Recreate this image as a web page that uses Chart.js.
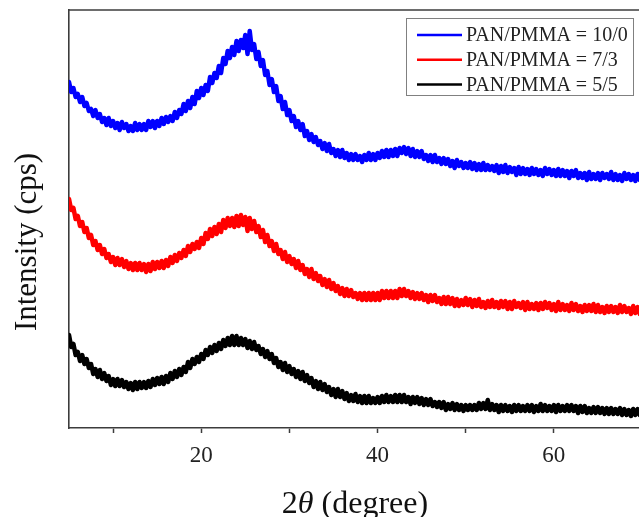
<!DOCTYPE html>
<html>
<head>
<meta charset="utf-8">
<script src="https://cdn.jsdelivr.net/npm/chart.js@4/dist/chart.umd.min.js"></script>
<style>
  html, body { margin: 0; padding: 0; background: #fff; overflow: hidden; }
  #wrap { width: 643px; height: 517px; position: relative; }
</style>
</head>
<body>
<div id="wrap"><canvas id="c"></canvas></div>
<script>
// ---- data (2theta scan, 5-70 deg, 0.25 deg step) ----
const scanStart = 5;
const scanStep = 0.25;
const seriesLabels = ['PAN/PMMA = 10/0', 'PAN/PMMA = 7/3', 'PAN/PMMA = 5/5'];
const seriesColors = ['#0000ff', '#ff0000', '#000000'];

const pan100 = [
346,336,340,331, 334,326,331,322, 325,317,319,312, 318,310,314,306, 310,303,310,302,
307,300,305,298, 306,300,304,297, 302,297,305,298, 304,298,304,298, 307,301,307,300,
307,302,310,304, 311,306,312,307, 316,310,318,314, 324,317,327,320, 331,324,337,330,
340,333,343,337, 351,345,355,350, 362,355,370,364, 377,370,381,373, 387,377,388,380,
393,374,397,378, 384,369,376,362, 368,353,357,343, 349,336,342,327, 332,319,326,313,
318,307,312,301, 307,298,304,292, 297,288,294,286, 291,283,287,279, 285,277,284,275,
279,272,278,271, 278,270,275,268, 274,268,274,268, 272,266,273,268, 275,268,274,268,
275,270,277,271, 278,271,278,272, 279,272,280,275, 281,274,280,272, 279,271,277,271,
277,269,273,267, 273,266,273,266, 270,264,270,264, 269,262,267,260, 268,262,266,260,
265,260,266,259, 265,258,264,258, 265,258,263,258, 262,257,263,255, 262,256,263,255,
261,256,260,253, 261,254,260,254, 259,253,260,254, 259,253,258,252, 260,254,259,253,
258,252,259,252, 258,252,257,250, 257,252,258,250, 255,250,255,248, 256,249,254,249,
255,248,255,250, 254,249,256,248, 254,248,253,247, 255,249,254,248, 253,247,254,248,
252];

const pan73 = [
229,218,220,209, 212,202,206,196, 200,190,193,183, 187,178,183,174, 179,170,174,166,
171,163,170,163, 169,161,167,159, 165,158,165,158, 165,158,164,156, 164,157,166,159,
166,160,167,160, 168,162,171,165, 173,167,175,170, 178,172,182,176, 184,179,186,180,
190,184,195,189, 199,192,201,194, 204,196,208,200, 210,202,210,201, 212,202,213,203,
211,197,210,199, 207,196,202,191, 198,186,193,182, 187,177,184,174, 178,169,176,166,
172,164,169,160, 167,158,163,154, 159,151,159,149, 155,147,152,143, 149,141,148,139,
145,137,142,134, 140,132,139,132, 138,131,135,129, 135,128,135,128, 135,128,135,128,
135,128,137,130, 137,130,137,130, 137,130,139,132, 139,132,137,130, 136,129,135,129,
135,128,133,126, 133,127,133,126, 130,124,131,124, 131,124,130,122, 129,122,128,123,
130,123,129,121, 128,122,129,121, 126,120,127,121, 128,121,126,120, 127,121,127,119,
126,119,127,121, 125,120,126,118, 126,119,124,119, 125,118,125,119, 126,120,125,118,
124,117,126,118, 124,118,123,117, 125,118,124,117, 122,116,123,117, 123,117,124,116,
123,116,121,115, 122,116,122,116, 121,115,123,116, 122,116,120,114, 122,115,121,114,
118];

const pan55 = [
93,81,84,73, 76,67,73,64, 69,60,64,54, 59,51,58,49, 55,47,52,43,
49,42,49,42, 48,41,46,39, 45,38,46,39, 46,40,46,40, 47,41,49,43,
50,44,51,44, 52,46,55,49, 57,51,59,53, 61,56,66,60, 69,64,71,66,
74,69,78,73, 81,75,83,77, 85,79,88,82, 90,83,92,83, 92,83,90,83,
89,80,87,79, 86,78,82,74, 79,71,77,69, 74,65,70,61, 66,58,65,56,
62,54,59,51, 57,49,56,47, 53,45,50,41, 47,39,46,38, 44,36,41,33,
39,31,39,31, 37,29,35,27, 33,27,34,26, 32,25,32,25, 32,25,30,25,
31,25,32,26, 33,26,32,26, 33,26,33,26, 33,26,31,24, 31,25,31,24,
30,23,29,23, 29,22,26,21, 26,20,26,18, 24,19,25,18, 24,18,23,17,
23,18,23,18, 23,18,25,19, 25,19,28,18, 24,18,23,16, 23,17,23,17,
22,16,23,17, 23,17,22,17, 23,17,23,16, 22,17,24,17, 23,17,22,17,
23,16,23,17, 22,17,23,17, 23,17,22,15, 22,16,22,15, 20,15,21,15,
21,15,20,14, 20,14,20,14, 19,14,20,13, 19,13,18,12, 19,13,19,13,
16];

const xTickValues = [10, 20, 30, 40, 50, 60];
const xTickLabels = ['', '20', '', '40', '', '60'];
const xTitleParts = ['2', 'θ', ' (degree)'];
const yTitle = 'Intensity (cps)';

// ---- build datasets ----
function toPoints(arr) {
  return arr.map((v, i) => ({ x: scanStart + i * scanStep, y: v }));
}
const seriesValues = [pan100, pan73, pan55];
const datasets = seriesValues.map((arr, k) => ({
  label: seriesLabels[k],
  data: toPoints(arr),
  borderColor: seriesColors[k],
  backgroundColor: seriesColors[k],
  borderWidth: 4.5,
  borderJoinStyle: 'round',
  borderCapStyle: 'round',
  pointRadius: 0,
  tension: 0,
  fill: false
}));

const SERIF = '"Liberation Serif", "Times New Roman", serif';
const AXIS = '#3c3c3c';

const decor = {
  id: 'decor',
  afterDraw(chart) {
    const ctx = chart.ctx;
    const a = chart.chartArea;
    ctx.save();
    // top frame line
    ctx.strokeStyle = AXIS;
    ctx.lineWidth = 1.6;
    ctx.beginPath();
    ctx.moveTo(a.left, a.top);
    ctx.lineTo(a.right, a.top);
    ctx.stroke();

    // legend box
    const bx = 406, by = 18, bw = 227, bh = 77;
    ctx.fillStyle = '#fff';
    ctx.fillRect(bx, by, bw, bh);
    ctx.strokeStyle = '#808080';
    ctx.lineWidth = 1;
    ctx.strokeRect(bx + 0.5, by + 0.5, bw, bh);
    ctx.font = '20px ' + SERIF;
    ctx.textBaseline = 'middle';
    ctx.textAlign = 'left';
    chart.data.datasets.forEach((ds, i) => {
      const yy = by + 17 + i * 24.7;
      ctx.strokeStyle = ds.borderColor;
      ctx.lineWidth = 2.5;
      ctx.beginPath();
      ctx.moveTo(417, yy);
      ctx.lineTo(462, yy);
      ctx.stroke();
      ctx.fillStyle = '#222';
      ctx.fillText(ds.label, 466, yy + 1);
    });

    // y title
    ctx.save();
    ctx.translate(28, 242);
    ctx.rotate(-Math.PI / 2);
    ctx.font = '31px ' + SERIF;
    ctx.fillStyle = '#111';
    ctx.textAlign = 'center';
    ctx.textBaseline = 'middle';
    ctx.fillText(yTitle, 0, 0);
    ctx.restore();

    // x title with italic theta
    const fonts = ['32px ' + SERIF, 'italic 32px ' + SERIF, '32px ' + SERIF];
    let total = 0;
    const widths = xTitleParts.map((t, i) => { ctx.font = fonts[i]; const w = ctx.measureText(t).width; total += w; return w; });
    let x0 = 355 - total / 2;
    ctx.fillStyle = '#111';
    ctx.textBaseline = 'alphabetic';
    ctx.textAlign = 'left';
    xTitleParts.forEach((t, i) => {
      ctx.font = fonts[i];
      ctx.fillText(t, x0, 513);
      x0 += widths[i];
    });
    ctx.restore();
  }
};

new Chart(document.getElementById('c'), {
  type: 'line',
  data: { datasets },
  options: {
    responsive: true,
    maintainAspectRatio: false,
    animation: false,
    layout: { padding: { top: 10, right: 1, left: 0, bottom: 0 } },
    plugins: { legend: { display: false }, tooltip: { enabled: false } },
    scales: {
      x: {
        type: 'linear',
        min: 5,
        max: 70,
        afterBuildTicks(scale) { scale.ticks = xTickValues.map(v => ({ value: v })); },
        afterFit(scale) { scale.height = 89; },
        ticks: {
          autoSkip: false,
          maxRotation: 0,
          padding: 9,
          color: '#222',
          font: { family: SERIF, size: 23 },
          callback(value) { const i = xTickValues.indexOf(value); return i >= 0 ? xTickLabels[i] : ''; }
        },
        grid: { drawOnChartArea: false, drawTicks: true, tickLength: 5, tickColor: AXIS, tickWidth: 1.5 },
        border: { display: true, color: AXIS, width: 1.6 }
      },
      y: {
        min: 0,
        max: 418,
        afterFit(scale) { scale.width = 69; },
        ticks: { display: false },
        grid: { display: false, drawTicks: false },
        border: { display: true, color: AXIS, width: 1.6 }
      }
    }
  },
  plugins: [decor]
});
</script>
</body>
</html>
